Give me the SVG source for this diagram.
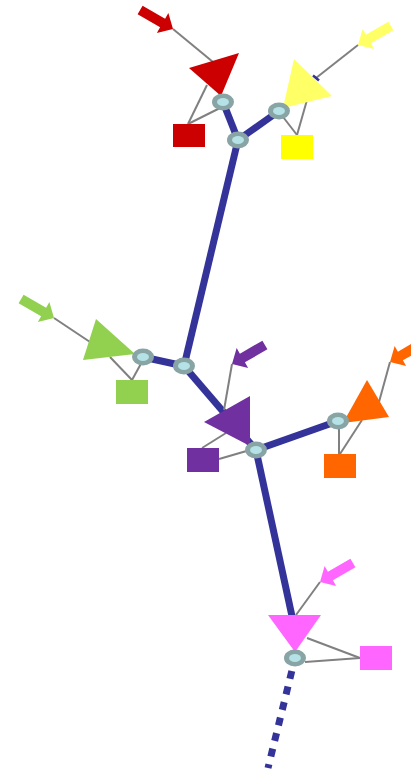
<svg xmlns="http://www.w3.org/2000/svg" xmlns:xlink="http://www.w3.org/1999/xlink" width="411" height="772" viewBox="0 0 411 772">
  <style>
    .trunk { stroke: #333399; stroke-width: 7; fill: none; stroke-linecap: butt; }
    .thin { stroke: #808080; stroke-width: 2; fill: none; }
    .ring { fill: #88a4a4; }
    .core { fill: #b4e2e6; }
  </style>
  <defs>
    <!-- block arrow, tip at origin pointing along +x -->
    <polygon id="arrow" points="0,0 -12,-11.5 -12,-5 -38,-5 -38,5 -12,5 -12,11.5"/>
    <g id="hub">
      <ellipse class="ring" rx="11" ry="8.5"/>
      <ellipse class="core" rx="6" ry="4"/>
    </g>
  </defs>
  <rect width="411" height="772" fill="#ffffff"/>

  <g id="connectors">
    <line class="trunk" x1="223" y1="102" x2="238" y2="140"/>
    <line class="trunk" x1="238" y1="140" x2="279" y2="111"/>
    <line class="trunk" x1="238" y1="140" x2="184" y2="366"/>
    <line class="trunk" x1="143" y1="357" x2="184" y2="366"/>
    <line class="trunk" x1="184" y1="366" x2="256" y2="450"/>
    <line class="trunk" x1="256" y1="450" x2="338" y2="421"/>
    <line class="trunk" x1="256" y1="450" x2="295" y2="630"/>
    <line class="trunk" x1="291.8" y1="671" x2="268" y2="768" stroke-dasharray="8 8"/>

    <line class="thin" x1="173" y1="29" x2="213" y2="62"/>
    <line class="thin" x1="207" y1="85" x2="188" y2="124"/>
    <line class="thin" x1="188" y1="124" x2="220" y2="108"/>

    <line class="thin" x1="358" y1="45" x2="316" y2="78"/>
    <line class="thin" x1="307" y1="100" x2="297" y2="135"/>
    <line class="thin" x1="297" y1="135" x2="280" y2="113"/>

    <line class="thin" x1="54" y1="318" x2="90" y2="342"/>
    <line class="thin" x1="110" y1="357" x2="132" y2="380"/>
    <line class="thin" x1="132" y1="380" x2="143" y2="360"/>

    <line class="thin" x1="232" y1="364" x2="224" y2="410"/>
    <line class="thin" x1="226" y1="433" x2="202" y2="448"/>
    <line class="thin" x1="219" y1="459" x2="250" y2="450"/>

    <line class="thin" x1="390" y1="362" x2="379" y2="402"/>
    <line class="thin" x1="339" y1="425" x2="339" y2="454"/>
    <line class="thin" x1="362" y1="420" x2="340" y2="454"/>

    <line class="thin" x1="320" y1="582" x2="296" y2="615"/>
    <line class="thin" x1="307" y1="638" x2="360" y2="658"/>
    <line class="thin" x1="360" y1="658" x2="305" y2="662"/>
  </g>

  <g id="red">
    <use xlink:href="#arrow" href="#arrow" fill="#cc0000" transform="translate(173,29) rotate(30)"/>
    <polygon points="189,68 239,53 221,96" fill="#cc0000"/>
    <rect x="173" y="124" width="32" height="23" fill="#cc0000"/>
  </g>

  <g id="yellow">
    <use xlink:href="#arrow" href="#arrow" fill="#ffff66" transform="translate(358,45) rotate(150)"/>
    <line x1="313" y1="75.5" x2="319" y2="80.5" stroke="#333399" stroke-width="2.5"/>
    <polygon points="294,59 332,96 283,108" fill="#ffff66"/>
    <rect x="281" y="135" width="32" height="24" fill="#ffff00"/>
  </g>

  <g id="green">
    <use xlink:href="#arrow" href="#arrow" fill="#92d050" transform="translate(54,318) rotate(30)"/>
    <polygon points="96,319 83,360 135,354" fill="#92d050"/>
    <rect x="116" y="380" width="32" height="24" fill="#92d050"/>
  </g>

  <g id="purple">
    <use xlink:href="#arrow" href="#arrow" fill="#7030a0" transform="translate(232,364) rotate(150)"/>
    <polygon points="250,396 204,422 250,446" fill="#7030a0"/>
    <rect x="187" y="448" width="32" height="24" fill="#7030a0"/>
  </g>

  <g id="orange">
    <use xlink:href="#arrow" href="#arrow" fill="#ff6600" transform="translate(390,362) rotate(150)"/>
    <polygon points="367,380 389,417 343,423" fill="#ff6600"/>
    <rect x="324" y="454" width="32" height="24" fill="#ff6600"/>
  </g>

  <g id="pink">
    <use xlink:href="#arrow" href="#arrow" fill="#ff66ff" transform="translate(320,582) rotate(150)"/>
    <polygon points="268,615 321,615 295,652" fill="#ff66ff"/>
    <rect x="360" y="646" width="32" height="24" fill="#ff66ff"/>
  </g>

  <g id="hubs">
    <use xlink:href="#hub" href="#hub" x="223" y="102"/>
    <use xlink:href="#hub" href="#hub" x="238" y="140"/>
    <use xlink:href="#hub" href="#hub" x="279" y="111"/>
    <use xlink:href="#hub" href="#hub" x="143" y="357"/>
    <use xlink:href="#hub" href="#hub" x="184" y="366"/>
    <use xlink:href="#hub" href="#hub" x="256" y="450"/>
    <use xlink:href="#hub" href="#hub" x="338" y="421"/>
    <use xlink:href="#hub" href="#hub" x="295" y="658"/>
  </g>
</svg>
